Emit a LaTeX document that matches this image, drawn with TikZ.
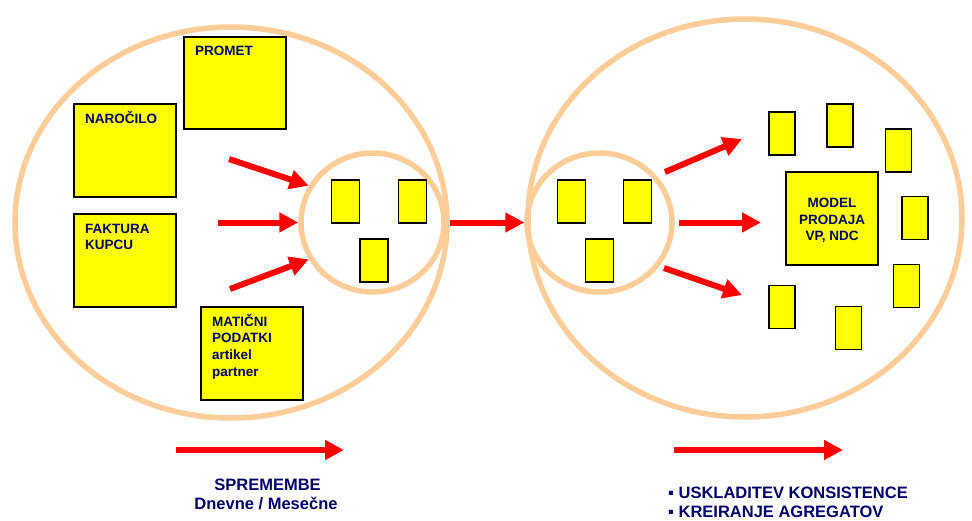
\documentclass[tikz,border=0pt]{standalone}
\usepackage{fontspec}
\setmainfont{Liberation Sans}
\usetikzlibrary{arrows.meta,shapes.geometric}
\definecolor{ringpeach}{RGB}{252,204,153}
\definecolor{boxyellow}{RGB}{255,255,0}
\definecolor{inknavy}{RGB}{0,0,110}
\definecolor{arrowred}{RGB}{255,0,0}

\begin{document}
\begin{tikzpicture}[x=1pt,y=-1pt,
  ring/.style={draw=ringpeach, line width=5.5pt, ellipse, inner sep=0pt},
  ybox/.style={draw=black, line width=1.8pt, fill=boxyellow, inner sep=0pt},
  tallbox/.style={ybox, minimum width=28pt, minimum height=43pt},
  satbox/.style={ybox, minimum width=26pt, minimum height=43pt},
  bigbox/.style={ybox, minimum width=102pt, minimum height=93pt},
  lbl/.style={font=\bfseries\fontsize{13.5}{16}\selectfont, text=inknavy, inner sep=0pt, anchor=base west},
  captext/.style={font=\bfseries\fontsize{16.5}{19}\selectfont, text=inknavy, inner sep=0pt, anchor=base},
  flow/.style={draw=arrowred, line width=6pt, -{Triangle[length=19pt,width=19pt]}}
]
% canvas
\fill[white] (0,0) rectangle (972,520);
\useasboundingbox (0,0) rectangle (972,520);

% the four rings
\node[ring, minimum width=432pt, minimum height=391pt] (outerL) at (231,222.5) {};
\node[ring, minimum width=434pt, minimum height=398pt] (outerR) at (745,218) {};
\node[ring, minimum width=143pt, minimum height=139pt] (innerL) at (372.5,222.5) {};
\node[ring, minimum width=145pt, minimum height=139pt] (innerR) at (599.5,222.5) {};

% source boxes
\node[bigbox, minimum height=92pt] (promet) at (235,83) {};
\node[bigbox] (narocilo) at (125,150.5) {};
\node[bigbox] (faktura) at (125,260.5) {};
\node[bigbox] (maticni) at (252,353.5) {};

% small boxes inside the inner rings
\node[tallbox] (la) at (345.5,201.5) {};
\node[tallbox] (lb) at (412.5,201.5) {};
\node[tallbox] (lc) at (374,260.5) {};
\node[tallbox] (ra) at (571.5,201.5) {};
\node[tallbox] (rb) at (637.5,201.5) {};
\node[tallbox] (rc) at (599.5,260.5) {};

% sales model and its satellites
\node[ybox, minimum width=92pt, minimum height=93pt] (model) at (832,218.5) {};
\node[satbox] (s1) at (782,133.5) {};
\node[satbox] (s2) at (840,125.5) {};
\node[satbox] (s3) at (898.5,150.5) {};
\node[satbox] (s4) at (915,218) {};
\node[satbox] (s5) at (906.5,286) {};
\node[satbox] (s6) at (848.5,328) {};
\node[satbox] (s7) at (782,307) {};

% box labels
\node[lbl] (tPromet) at (195,55) {PROMET};
\node[lbl] (tNarocilo) at (85,123) {NAROČILO};
\node[lbl] (tFaktura) at (85,233) {FAKTURA};
\node[lbl] (tKupcu) at (85,249.5) {KUPCU};
\node[lbl] (tMat1) at (212,326) {MATIČNI};
\node[lbl] (tMat2) at (212,342.7) {PODATKI};
\node[lbl] (tMat3) at (212,359.3) {artikel};
\node[lbl] (tMat4) at (212,376) {partner};
\node[lbl, anchor=base] (tModel1) at (832,207) {MODEL};
\node[lbl, anchor=base] (tModel2) at (832,224) {PRODAJA};
\node[lbl, anchor=base] (tModel3) at (832,240.7) {VP, NDC};

% flows into the left inner ring
\coordinate (inTop) at (229,159);
\coordinate (inMid) at (218,222.5);
\coordinate (inBot) at (230,289);
\draw[flow] (inTop) -- (innerL.150);
\draw[flow] (inMid) -- (innerL.west);
\draw[flow] (inBot) -- (innerL.210);

% flow between the two stages
\draw[flow] (outerL.east) -- (innerR.west);

% flows out to the model
\coordinate (outTopA) at (665,172);
\coordinate (outTopB) at (742,139);
\coordinate (outMidA) at (679,222.5);
\coordinate (outMidB) at (761,222.5);
\coordinate (outBotA) at (664,268);
\coordinate (outBotB) at (742,295);
\draw[flow] (outTopA) -- (outTopB);
\draw[flow] (outMidA) -- (outMidB);
\draw[flow] (outBotA) -- (outBotB);

% bottom captions
\coordinate (sprA) at (176,450);
\coordinate (sprB) at (344,450);
\coordinate (uskA) at (674,450);
\coordinate (uskB) at (843,450);
\draw[flow] (sprA) -- (sprB);
\draw[flow] (uskA) -- (uskB);
\node[captext] (tSpr) at (267.5,490) {SPREMEMBE};
\node[captext] (tDnev) at (266,509.3) {Dnevne / Mesečne};
\node[captext, anchor=base west] (tUsk) at (668,498.5) {▪ USKLADITEV KONSISTENCE};
\node[captext, anchor=base west] (tKre) at (668,517.3) {▪ KREIRANJE AGREGATOV};
\end{tikzpicture}
\end{document}
